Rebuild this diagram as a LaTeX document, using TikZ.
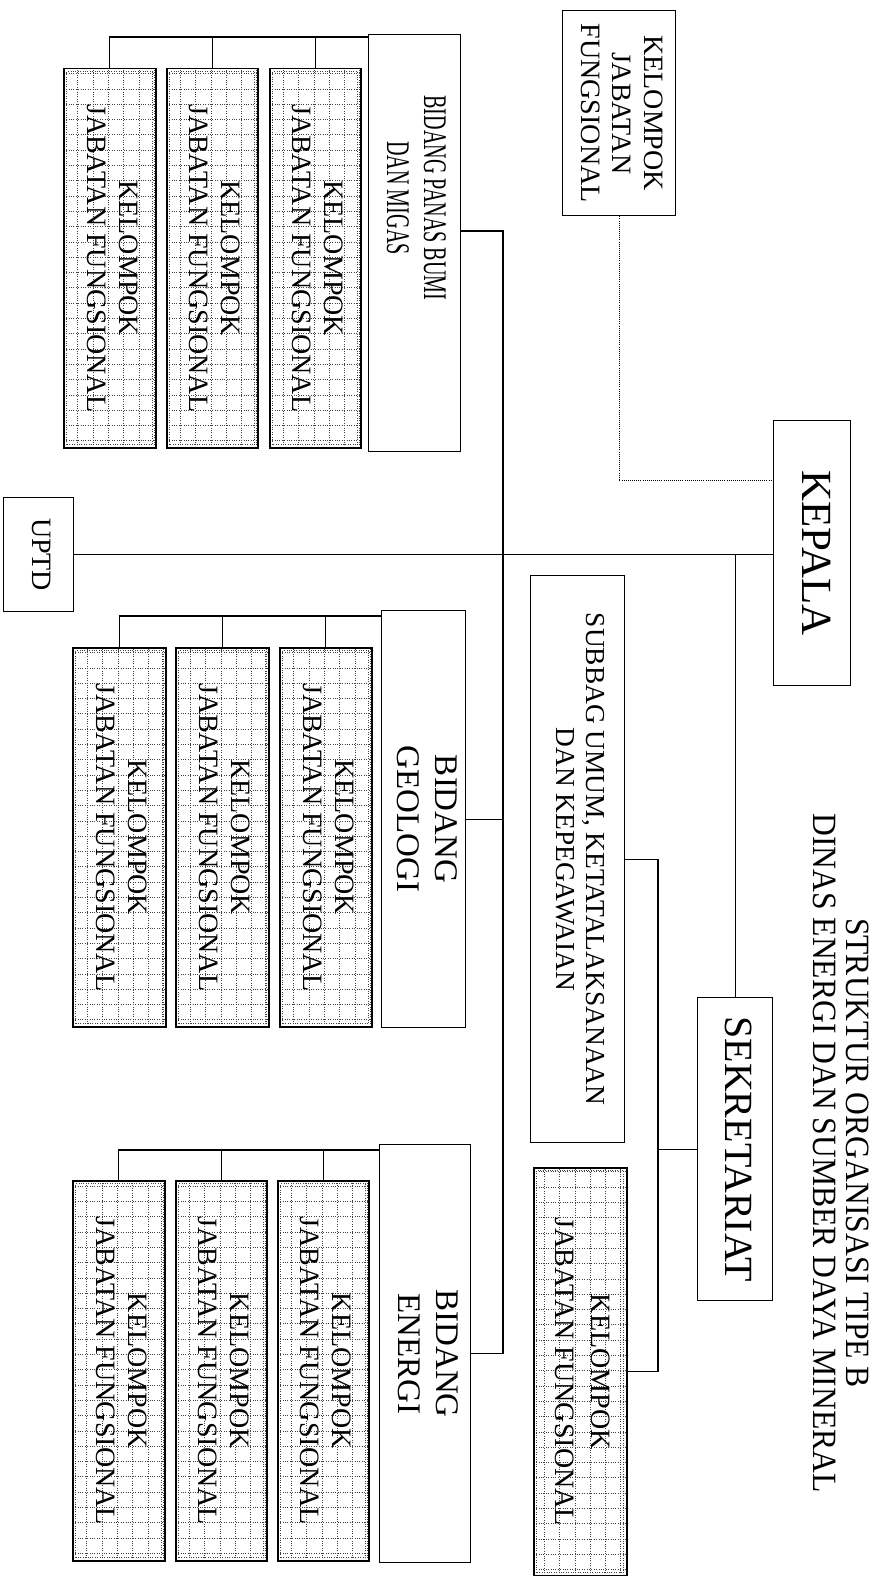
\documentclass[tikz,border=0pt]{standalone}
\usepackage{fontspec}
\setmainfont{Liberation Serif}
\usepackage{graphicx}
\newcommand{\vtxt}[4]{\rotatebox{-90}{\scalebox{#3}[1]{\fontsize{#1}{#2}\selectfont\begin{tabular}{@{}c@{}}#4\end{tabular}}}}
\tikzset{
  griddot/.style={line width=0.7pt, black!75, dash pattern=on 0.9pt off 1.5pt},
  box/.style={draw, line width=1.3pt, inner sep=0pt, anchor=north west, fill=white},
  kjf/.style={box, line width=1.5pt,
    path picture={
      \draw[griddot] (path picture bounding box.south west) grid[step=15.3pt] (path picture bounding box.north east);
      \draw[griddot] ([shift={(3pt,3pt)}]path picture bounding box.south west) rectangle ([shift={(-3pt,-3pt)}]path picture bounding box.north east);
    }},
  link/.style={line width=1.1pt},
  dotlink/.style={line width=0.9pt, dash pattern=on 0.9pt off 1.2pt},
  lbl/.style={inner sep=0pt},
}
\begin{document}
\begin{tikzpicture}[x=1pt, y=-1pt]
\useasboundingbox[fill=white] (0,0) rectangle (872,1576);

% title
\node[lbl] (title) at (836.5,1153) {\vtxt{34}{33}{0.93}{STRUKTUR ORGANISASI TIPE B\\DINAS ENERGI DAN SUMBER DAYA MINERAL}};

% top level
\node[box, minimum width=113pt, minimum height=205pt] (kjftop) at (562,10) {\vtxt{28}{31.5}{1}{KELOMPOK\\JABATAN\\FUNGSIONAL}};
\node[box, minimum width=77pt, minimum height=265pt] (kepala) at (773,420) {\vtxt{43}{50}{1}{KEPALA}};
\node[box, minimum width=70pt, minimum height=114pt] (uptd) at (3,497) {\vtxt{28}{32}{1}{UPTD}};

% sekretariat
\node[box, minimum width=75pt, minimum height=303pt] (sekr) at (697,997) {\vtxt{40}{46}{1}{SEKRETARIAT}};
\node[box, minimum width=94pt, minimum height=567pt] (subbag) at (530,575) {\vtxt{27.4}{30}{1}{SUBBAG UMUM, KETATALAKSANAAN\\DAN KEPEGAWAIAN}};
\node[kjf, minimum width=93pt, minimum height=408pt] (skjf) at (533,1167) {\vtxt{28}{36}{1}{KELOMPOK\\JABATAN FUNGSIONAL}};

% bidang panas bumi dan migas
\node[box, minimum width=92pt, minimum height=417pt] (bpb) at (368,34) {};
\node[lbl] (bpbt) at (413,198) {\vtxt{33}{37}{0.61}{BIDANG PANAS BUMI\\DAN MIGAS}};
\node[kjf, minimum width=92pt, minimum height=379pt] (p1) at (63,68) {\vtxt{28}{32}{1}{KELOMPOK\\JABATAN FUNGSIONAL}};
\node[kjf, minimum width=91pt, minimum height=379pt] (p2) at (166,68) {\vtxt{28}{32}{1}{KELOMPOK\\JABATAN FUNGSIONAL}};
\node[kjf, minimum width=91pt, minimum height=379pt] (p3) at (269,68) {\vtxt{28}{32}{1}{KELOMPOK\\JABATAN FUNGSIONAL}};

% bidang geologi
\node[box, minimum width=84pt, minimum height=417pt] (geologi) at (381,610) {\vtxt{33}{38}{1}{BIDANG\\GEOLOGI}};
\node[kjf, minimum width=93pt, minimum height=379pt] (g1) at (72,647) {\vtxt{28}{32}{1}{KELOMPOK\\JABATAN FUNGSIONAL}};
\node[kjf, minimum width=93pt, minimum height=379pt] (g2) at (175,647) {\vtxt{28}{32}{1}{KELOMPOK\\JABATAN FUNGSIONAL}};
\node[kjf, minimum width=92pt, minimum height=379pt] (g3) at (279,647) {\vtxt{28}{32}{1}{KELOMPOK\\JABATAN FUNGSIONAL}};

% bidang energi
\node[box, minimum width=91pt, minimum height=418pt] (energi) at (379,1144) {\vtxt{33}{38}{1}{BIDANG\\ENERGI}};
\node[kjf, minimum width=92pt, minimum height=380pt] (e1) at (72,1180) {\vtxt{28}{32}{1}{KELOMPOK\\JABATAN FUNGSIONAL}};
\node[kjf, minimum width=91pt, minimum height=380pt] (e2) at (175,1180) {\vtxt{28}{32}{1}{KELOMPOK\\JABATAN FUNGSIONAL}};
\node[kjf, minimum width=91pt, minimum height=380pt] (e3) at (277,1180) {\vtxt{28}{32}{1}{KELOMPOK\\JABATAN FUNGSIONAL}};

% connectors: top level
\draw[link] (kepala.west |- uptd.east) -- (uptd.east);
\draw[link] (sekr.north) -- (sekr.north |- uptd.east);
\draw[dotlink] (kjftop.south) |- ([yshift=72.5pt]kepala.west);

% main bus to bidang
\coordinate (bt) at (503,231);
\draw[link] (bpb.east |- bt) -- (bt) -- (bt |- energi.east) -- (energi.east);
\draw[link] (geologi.east) -- (bt |- geologi.east);

% sekretariat group
\coordinate (sx) at (658,0);
\draw[link] (subbag.east) -- (sx |- subbag.east) -- (sx |- skjf.east) -- (skjf.east);
\draw[link] (sekr.west) -- (sx |- sekr.west);

% bpb group
\coordinate (hb) at ([yshift=-3pt]bpb.north west);
\draw[link] (hb) -- (p1.north |- hb) -- (p1.north);
\draw[link] (p2.north |- hb) -- (p2.north);
\draw[link] (p3.north |- hb) -- (p3.north);

% geologi group
\coordinate (hg) at ([yshift=-6pt]geologi.north west);
\draw[link] (hg) -- (g1.north |- hg) -- (g1.north);
\draw[link] (g2.north |- hg) -- (g2.north);
\draw[link] (g3.north |- hg) -- (g3.north);

% energi group
\coordinate (he) at ([yshift=-6pt]energi.north west);
\draw[link] (he) -- (e1.north |- he) -- (e1.north);
\draw[link] (e2.north |- he) -- (e2.north);
\draw[link] (e3.north |- he) -- (e3.north);
\end{tikzpicture}
\end{document}
